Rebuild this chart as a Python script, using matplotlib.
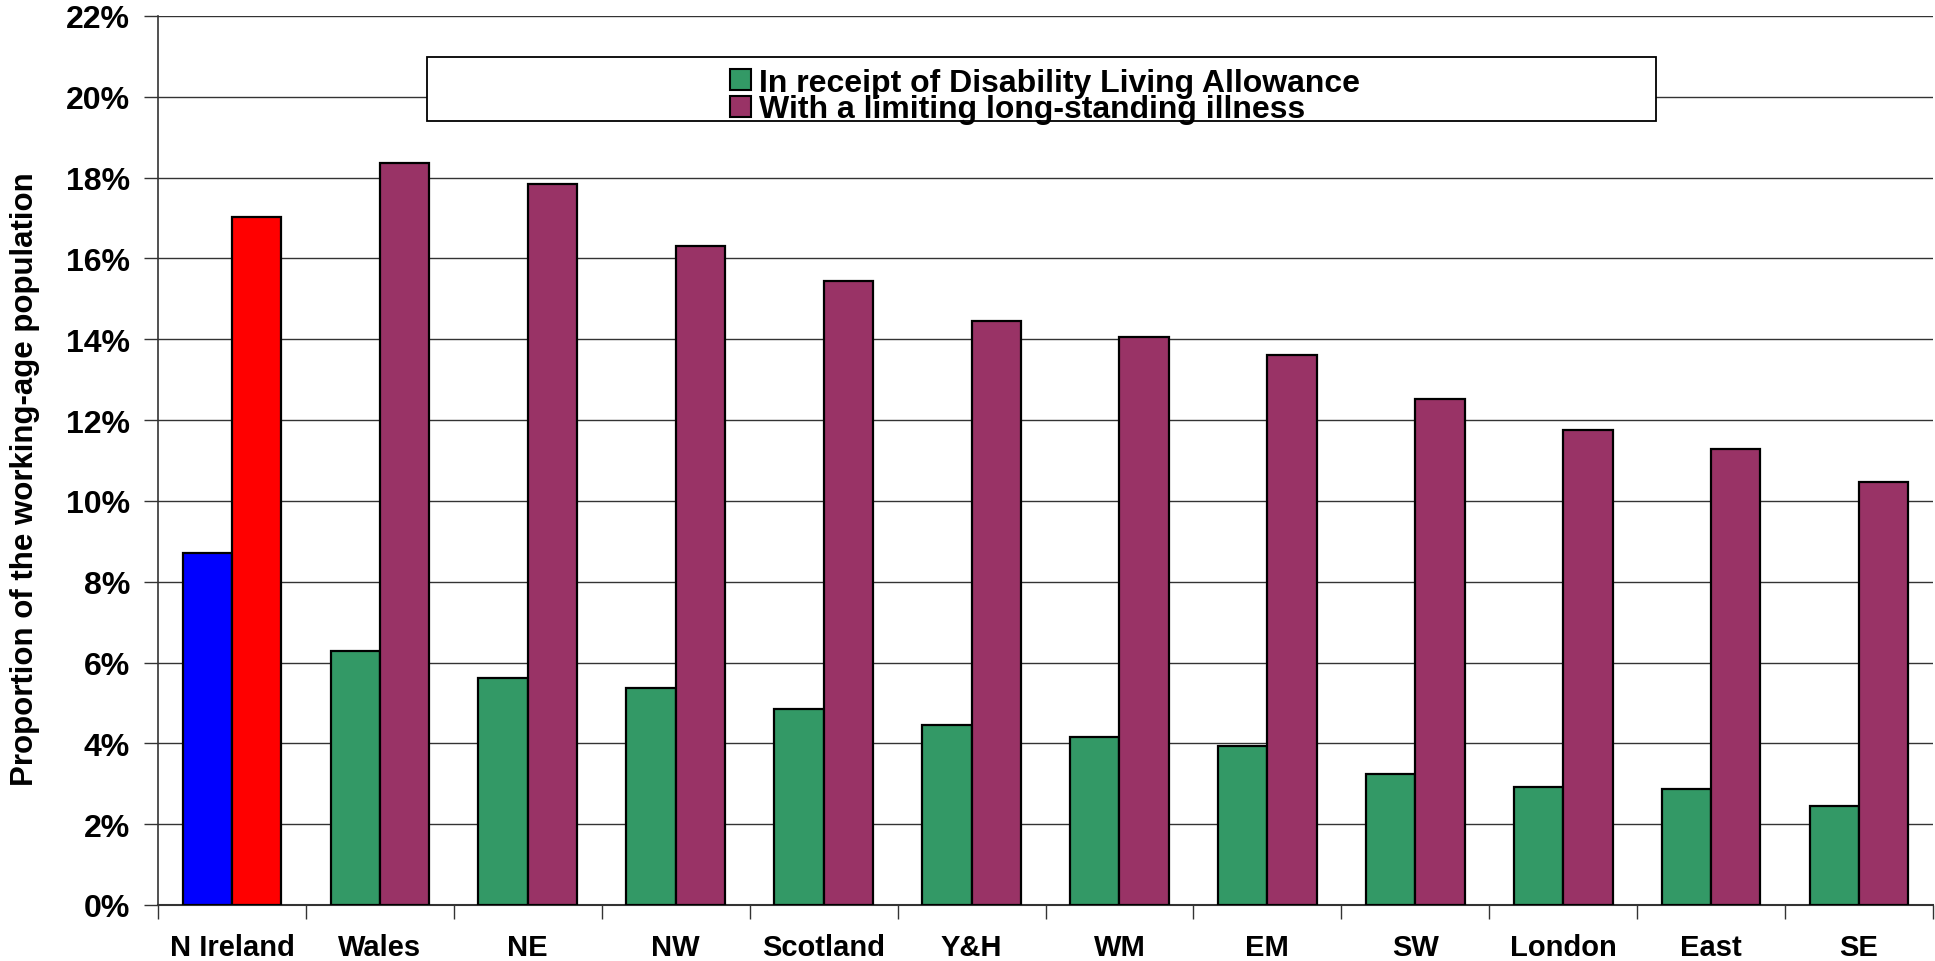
import matplotlib
matplotlib.use("Agg")
import matplotlib.pyplot as plt
from matplotlib.patches import Patch, Rectangle
import numpy as np

plt.rcParams['font.family'] = ['Liberation Sans', 'DejaVu Sans']
plt.rcParams['font.weight'] = 'bold'

categories = ["N Ireland", "Wales", "NE", "NW", "Scotland", "Y&H", "WM", "EM", "SW", "London", "East", "SE"]
dla = [8.7, 6.29, 5.62, 5.38, 4.86, 4.46, 4.16, 3.94, 3.24, 2.93, 2.87, 2.44]
llsi = [17.02, 18.36, 17.84, 16.32, 15.43, 14.45, 14.06, 13.6, 12.53, 11.76, 11.28, 10.48]
series_labels = ["In receipt of Disability Living Allowance", "With a limiting long-standing illness"]
yticks = [0, 2, 4, 6, 8, 10, 12, 14, 16, 18, 20, 22]

green = "#339966"
purple = "#993366"
dla_colors = ["#0000FF"] + [green] * (len(categories) - 1)
llsi_colors = ["#FF0000"] + [purple] * (len(categories) - 1)

W, H = 1935, 962
fig = plt.figure(figsize=(W / 100, H / 100), dpi=100)
ax_w = W - 158 - 2
ax = fig.add_axes([158 / W, 1 - 906 / H, ax_w / W, (906 - 17) / H])

x = np.arange(len(categories))
bw = 1 / 3
ax.bar(x - bw / 2, dla, width=bw, color=dla_colors, edgecolor="black", linewidth=1.6, zorder=3)
ax.bar(x + bw / 2, llsi, width=bw, color=llsi_colors, edgecolor="black", linewidth=1.6, zorder=3)

ax.set_xlim(-0.5, len(categories) - 0.5)
ax.set_ylim(0, 22)
ax.set_yticks(yticks)
ax.set_yticklabels([f"{v}%" for v in yticks])
ax.yaxis.grid(True, color="#333333", linewidth=1.0, zorder=0)
ax.set_axisbelow(True)

ax.set_xticks(np.arange(-0.5, len(categories), 1.0))
ax.set_xticklabels([])
ax.set_xticks(x, minor=True)
ax.set_xticklabels(categories, minor=True)
ax.tick_params(axis="x", which="major", direction="out", length=10, width=1.0, color="#333333")
ax.tick_params(axis="x", which="minor", length=0, pad=20, labelsize=21)
ax.tick_params(axis="y", direction="out", length=10, width=1.0, pad=10, labelsize=23, color="#333333")

for lbl in ax.get_xticklabels(minor=True) + ax.get_yticklabels():
    lbl.set_fontweight("bold")

ax.spines["top"].set_visible(False)
ax.spines["right"].set_visible(False)
ax.spines["left"].set_color("#333333")
ax.spines["bottom"].set_color("#333333")
ax.spines["left"].set_linewidth(1.2)
ax.spines["bottom"].set_linewidth(1.5)

ax.set_ylabel("Proportion of the working-age population", fontsize=22.5, fontweight="bold")
ax.yaxis.set_label_coords(-(158 - 40) / ax_w, 0.48)

# legend frame box
box = Rectangle((427 / W, 1 - 122 / H), (1656 - 427) / W, 64 / H, transform=fig.transFigure,
                facecolor="white", edgecolor="black", linewidth=1.3, zorder=5)
fig.patches.append(box)

handles = [Patch(facecolor=green, edgecolor="black", linewidth=1.5),
           Patch(facecolor=purple, edgecolor="black", linewidth=1.5)]
leg = fig.legend(handles, series_labels, loc="center", bbox_to_anchor=(1045 / W, 1 - 97 / H),
                 frameon=False, prop={"size": 23, "weight": "bold"},
                 handlelength=0.65, handleheight=0.65, handletextpad=0.25, labelspacing=-0.1,
                 borderpad=0, borderaxespad=0)
leg.set_zorder(6)

fig.savefig("out.png", dpi=100)
